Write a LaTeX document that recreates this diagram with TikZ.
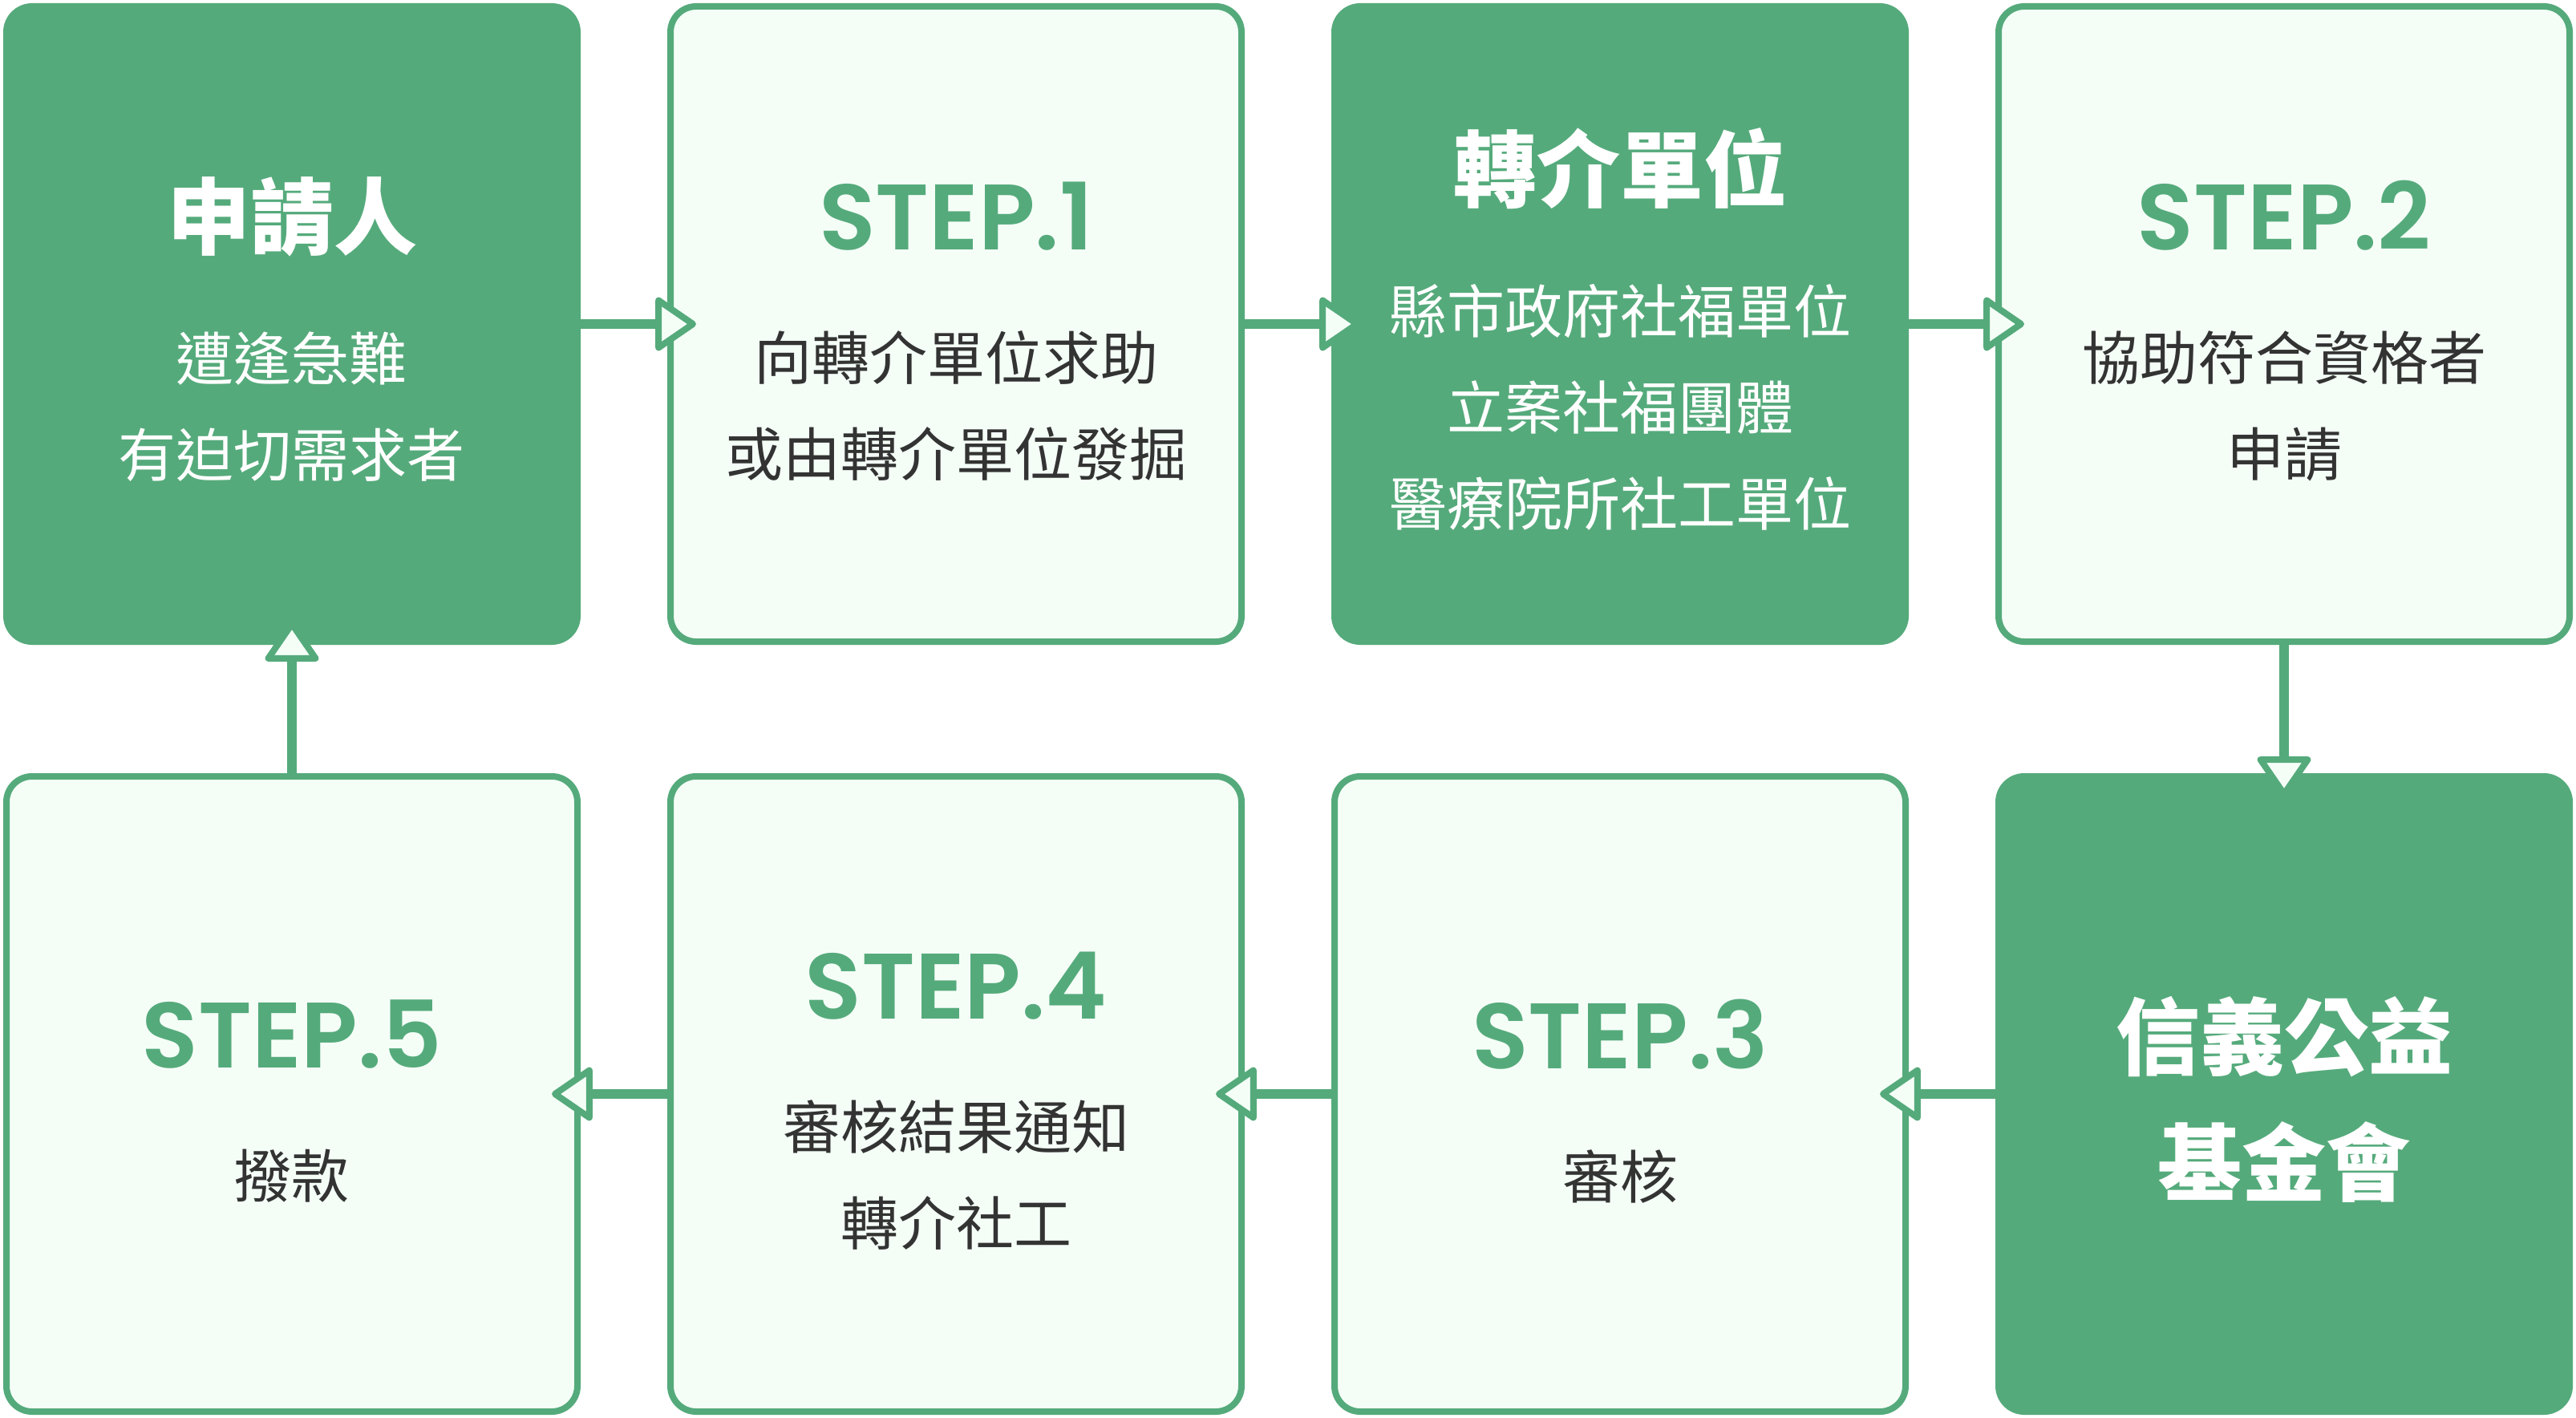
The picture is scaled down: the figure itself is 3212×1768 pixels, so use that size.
\documentclass[tikz,border=0pt]{standalone}
\usepackage{fontspec}
\setmainfont{Noto Sans CJK TC}
\newfontfamily\stepfont{Poppins}[BoldFont={Poppins SemiBold}]
\usetikzlibrary{arrows.meta, positioning}
\definecolor{cgreen}{HTML}{55AA7B}
\definecolor{cmint}{HTML}{F4FEF7}
\definecolor{cink}{HTML}{333333}
\newcommand{\cardtitle}{\fontsize{104}{104}\selectfont\bfseries}
\newcommand{\cardbody}{\normalfont\fontsize{72}{120}\selectfont}
\newcommand{\cardstep}{\stepfont\bfseries\fontsize{116}{116}\selectfont\color{cgreen}}

\begin{document}
\begin{tikzpicture}[
    node distance=160pt and 108pt,
    card/.style={rectangle, rounded corners=32pt, minimum width=712pt, minimum height=792pt, line width=8pt, draw=cgreen, text width=700pt, align=center},
    darkcard/.style={card, fill=cgreen, text=white},
    lightcard/.style={card, fill=cmint, text=cink},
    flow/.style={line width=12pt, cgreen, -{Triangle[length=54pt, width=72pt, line width'=8pt, round, fill=cmint]}}
]
\path[use as bounding box, fill=white] (0,0) rectangle (3212pt,-1768pt);

%% Top row
\node[darkcard] (applicant) at (364pt,-404pt) {\cardtitle 申請人\\[45pt]\cardbody 遭逢急難\\有迫切需求者\par\vspace{-14pt}};
\node[lightcard, right=of applicant] (step1) {\cardstep STEP.1\\[42pt]\cardbody\color{cink} 向轉介單位求助\\或由轉介單位發掘\par\vspace{-18pt}};
\node[darkcard, right=of step1] (referral) {\cardtitle 轉介單位\\[45pt]\cardbody 縣市政府社福單位\\立案社福團體\\醫療院所社工單位\par\vspace{-14pt}};
\node[lightcard, right=of referral] (step2) {\cardstep STEP.2\\[42pt]\cardbody\color{cink} 協助符合資格者\\申請\par\vspace{-18pt}};

%% Bottom row
\node[darkcard, below=of step2] (foundation) {\cardtitle\fontsize{105}{157}\selectfont 信義公益\\基金會\par\vspace{-14pt}};
\node[lightcard, left=of foundation] (step3) {\cardstep STEP.3\\[42pt]\cardbody\color{cink} 審核\par\vspace{-18pt}};
\node[lightcard, left=of step3] (step4) {\cardstep STEP.4\\[42pt]\cardbody\color{cink} 審核結果通知\\轉介社工\par\vspace{-18pt}};
\node[lightcard, left=of step4] (step5) {\cardstep STEP.5\\[42pt]\cardbody\color{cink} 撥款\par\vspace{-18pt}};

%% Flow
\draw[flow] (applicant) -- ([xshift=36pt]step1.west);
\draw[flow] (step1) -- ([xshift=36pt]referral.west);
\draw[flow] (referral) -- ([xshift=36pt]step2.west);
\draw[flow] (step2) -- ([yshift=-30pt]foundation.north);
\draw[flow] (foundation) -- ([xshift=-36pt]step3.east);
\draw[flow] (step3) -- ([xshift=-36pt]step4.east);
\draw[flow] (step4) -- ([xshift=-36pt]step5.east);
\draw[flow] (step5) -- ([yshift=30pt]applicant.south);

\end{tikzpicture}
\end{document}
